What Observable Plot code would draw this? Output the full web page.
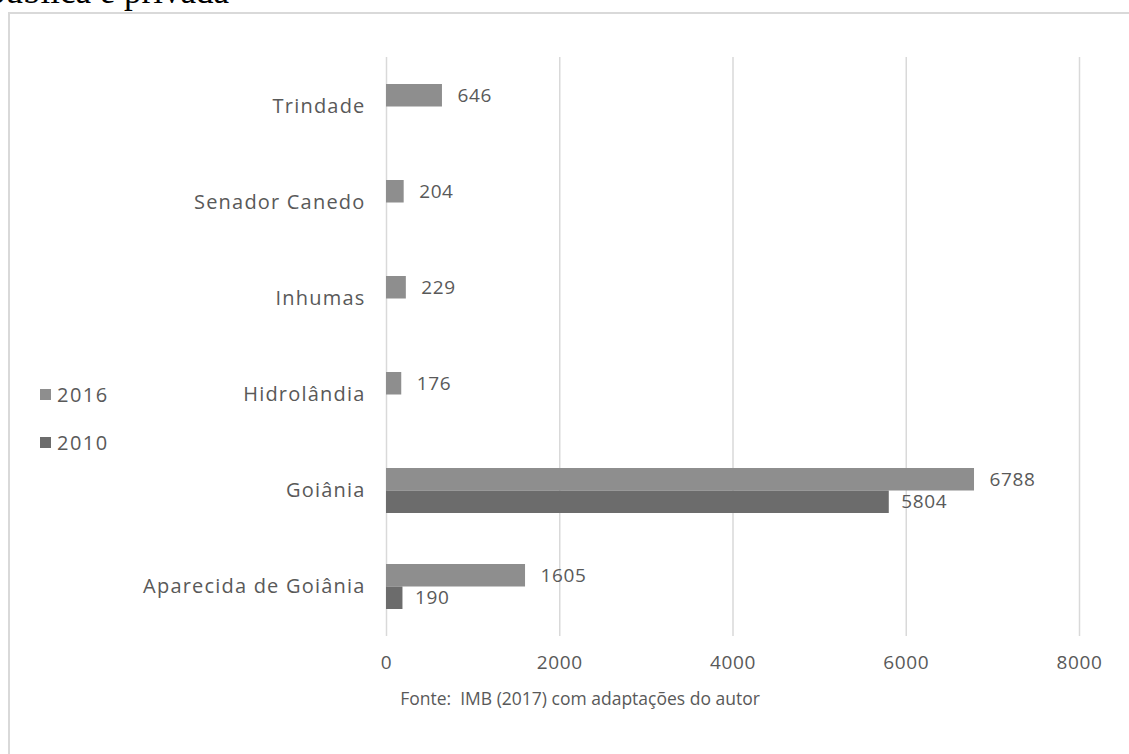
<!DOCTYPE html>
<html>
<head>
<meta charset="utf-8">
<script src="https://cdn.jsdelivr.net/npm/d3@7"></script>
<script src="https://cdn.jsdelivr.net/npm/@observablehq/plot@0.6"></script>
<style>
  html, body { margin: 0; padding: 0; background: #fff; width: 1129px; height: 754px; overflow: hidden; }
  #wrap { position: relative; width: 1129px; height: 754px; }
  #title { position: absolute; left: -12px; top: -26px; font-family: "Liberation Serif", serif; font-size: 35px; color: #000; white-space: nowrap; line-height: 1; }
  #box { position: absolute; left: 8px; top: 12px; width: 1140px; height: 760px; border: 2px solid #d9d9d9; box-sizing: border-box; }
  #chart { position: absolute; left: 0; top: 0; }
  #legend { position: absolute; left: 40px; top: 381px; font-family: "Open Sans", sans-serif; font-size: 20px; letter-spacing: 1.5px; color: #595959; }
  .li { display: flex; align-items: center; height: 26px; margin-bottom: 22px; }
  .sw { width: 11px; height: 11px; margin-right: 6px; }
  #caption { position: absolute; left: 0; width: 1160px; top: 686px; text-align: center; font-family: "Open Sans", sans-serif; font-size: 17.5px; color: #595959; }
</style>
</head>
<body>
<div id="wrap">
  <div id="title">pública e privada</div>
  <div id="box"></div>
  <div id="chart"></div>
  <div id="legend"></div>
  <div id="caption">Fonte:&nbsp; IMB (2017) com adaptações do autor</div>
</div>
<script>
const categories = ["Trindade", "Senador Canedo", "Inhumas", "Hidrolândia", "Goiânia", "Aparecida de Goiânia"];
const values2016 = [646, 204, 229, 176, 6788, 1605];
const values2010 = [null, null, null, null, 5804, 190];
const xTicks = [0, 2000, 4000, 6000, 8000];
const seriesNames = ["2016", "2010"];
const seriesColors = ["#8e8e8e", "#6c6c6c"];

const d2016 = categories.map((c, i) => ({category: c, value: values2016[i]})).filter(d => d.value != null);
const d2010 = categories.map((c, i) => ({category: c, value: values2010[i]})).filter(d => d.value != null);

const textColor = "#595959";
const font = "Open Sans, sans-serif";

const chart = Plot.plot({
  width: 1129,
  height: 754,
  marginLeft: 386,
  marginRight: 50,
  marginTop: 57,
  marginBottom: 118,
  style: {fontFamily: font, fontSize: "19px", color: textColor, background: "transparent"},
  x: {domain: [0, 8000], ticks: xTicks, label: null},
  y: {domain: categories, paddingInner: 0.534, paddingOuter: 0.267, label: null},
  marks: [
    Plot.ruleX(xTicks, {stroke: "#d9d9d9", strokeWidth: 1.5}),
    Plot.barX(d2016, {x: "value", y: "category", fill: seriesColors[0], insetBottom: 22.5, insetTop: 0}),
    Plot.barX(d2010, {x: "value", y: "category", fill: seriesColors[1], insetTop: 22.5, insetBottom: 0}),
    Plot.text(d2016, {x: "value", y: "category", text: d => String(d.value), dx: 15, dy: -11, textAnchor: "start", fill: textColor, fontSize: 19}),
    Plot.text(d2010, {x: "value", y: "category", text: d => String(d.value), dx: 12, dy: 11, textAnchor: "start", fill: textColor, fontSize: 19}),
    Plot.axisX({ticks: xTicks, tickSize: 0, tickPadding: 19, tickFormat: d => String(d), fill: textColor, fontSize: 19, label: null}),
    Plot.axisY({tickSize: 0, tickPadding: 21, fill: textColor, fontSize: 20, label: null})
  ]
});
document.getElementById("chart").appendChild(chart);
d3.select(chart).selectAll("text").style("letter-spacing", "0.6px");
d3.select(chart).selectAll('[aria-label="y-axis tick label"] text').style("letter-spacing", "1.2px");

const legend = document.getElementById("legend");
seriesNames.forEach((n, i) => {
  const row = document.createElement("div");
  row.className = "li";
  const sw = document.createElement("span");
  sw.className = "sw";
  sw.style.background = seriesColors[i];
  const t = document.createElement("span");
  t.textContent = n;
  row.appendChild(sw);
  row.appendChild(t);
  legend.appendChild(row);
});
</script>
</body>
</html>
